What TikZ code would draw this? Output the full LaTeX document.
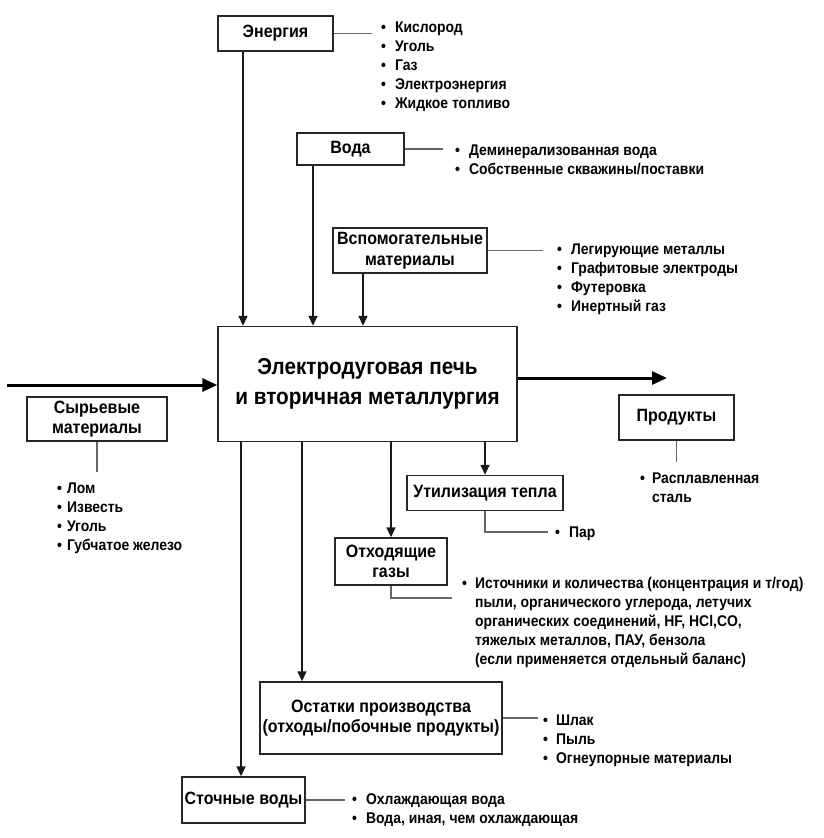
\documentclass[tikz,border=0pt]{standalone}
\usepackage{fontspec}
\setmainfont{Liberation Sans}[FakeStretch=0.9]
\usetikzlibrary{arrows.meta}
\begin{document}
\begin{tikzpicture}[x=1pt,y=-1pt,
  box/.style={draw=black!85, line width=1.4pt, inner sep=0pt, align=center, font=\bfseries\fontsize{17.8}{20.5}\selectfont},
  lst/.style={anchor=base west, inner sep=0pt, font=\bfseries\fontsize{15.5}{19}\selectfont},
  link/.style={draw=black!60, line width=1.2pt},
  flow/.style={draw=black!90, line width=1.5pt, -{Triangle[length=10pt,width=9pt]}},
  bigflow/.style={draw=black, line width=3pt, -{Triangle[length=15pt,width=13pt]}},
]
\useasboundingbox (0,0) rectangle (823,838);

% boxes
\node[box, minimum width=115pt, minimum height=35pt] (en) at (275.5,33.5) {Энергия};
\node[box, minimum width=107pt, minimum height=32pt] (wa) at (350.5,149) {Вода};
\node[box, minimum width=154pt, minimum height=45pt] (aux) at (410,250.5) {Вспомогательные\\материалы};
\node[box, minimum width=299pt, minimum height=115pt, font=\bfseries\fontsize{23}{30}\selectfont] (eaf) at (367.5,384) {Электродуговая печь\\и вторичная металлургия};
\node[box, minimum width=140pt, minimum height=44pt] (raw) at (97,419) {Сырьевые\\материалы};
\node[box, minimum width=115pt, minimum height=45pt] (prod) at (676.5,417.5) {Продукты};
\node[box, minimum width=156pt, minimum height=35pt] (heat) at (485,493) {Утилизация тепла};
\node[box, minimum width=112pt, minimum height=47pt] (off) at (391,561.5) {Отходящие\\газы};
\node[box, minimum width=242pt, minimum height=72pt] (res) at (381,718) {Остатки производства\\(отходы/побочные продукты)};
\node[box, minimum width=123pt, minimum height=46pt] (ww) at (243.5,800) {Сточные воды};

% lists
\node[lst] (enl) at (381,32) {\begin{tabular}[t]{@{}l@{\hspace{9pt}}l@{}}•&Кислород\\•&Уголь\\•&Газ\\•&Электроэнергия\\•&Жидкое топливо\end{tabular}};
\node[lst] (wal) at (455,155) {\begin{tabular}[t]{@{}l@{\hspace{9pt}}l@{}}•&Деминерализованная вода\\•&Собственные скважины/поставки\end{tabular}};
\node[lst] (auxl) at (557,254) {\begin{tabular}[t]{@{}l@{\hspace{9pt}}l@{}}•&Легирующие металлы\\•&Графитовые электроды\\•&Футеровка\\•&Инертный газ\end{tabular}};
\node[lst] (rawl) at (57,493) {\begin{tabular}[t]{@{}l@{\hspace{5pt}}l@{}}•&Лом\\•&Известь\\•&Уголь\\•&Губчатое железо\end{tabular}};
\node[lst] (prodl) at (640,483) {\begin{tabular}[t]{@{}l@{\hspace{7pt}}l@{}}•&Расплавленная\\&сталь\end{tabular}};
\node[lst] (heatl) at (555,537) {\begin{tabular}[t]{@{}l@{\hspace{9pt}}l@{}}•&Пар\end{tabular}};
\node[lst] (offl) at (462,588) {\begin{tabular}[t]{@{}l@{\hspace{8pt}}l@{}}•&Источники и количества (концентрация и т/год)\\&пыли, органического углерода, летучих\\&органических соединений, HF, HCl,CO,\\&тяжелых металлов, ПАУ, бензола\\&(если применяется отдельный баланс)\end{tabular}};
\node[lst] (resl) at (543,725) {\begin{tabular}[t]{@{}l@{\hspace{8pt}}l@{}}•&Шлак\\•&Пыль\\•&Огнеупорные материалы\end{tabular}};
\node[lst] (wwl) at (352,804) {\begin{tabular}[t]{@{}l@{\hspace{9pt}}l@{}}•&Охлаждающая вода\\•&Вода, иная, чем охлаждающая\end{tabular}};

% list connectors
\coordinate (enE) at (372,33.5);
\coordinate (waE) at (443,149);
\coordinate (auxE) at (543,250.5);
\coordinate (rawS) at (97,472);
\coordinate (prodS) at (676.5,462);
\coordinate (heatE) at (548,532);
\coordinate (offE) at (452,598);
\coordinate (resE) at (538,718);
\coordinate (wwE) at (345,800);
\draw[link] (en.east) -- (enE);
\draw[link] (wa.east) -- (waE);
\draw[link] (aux.east) -- (auxE);
\draw[link] (raw.south) -- (rawS);
\draw[link] (prod.south) -- (prodS);
\draw[link] (heat.south) |- (heatE);
\draw[link] (off.south) |- (offE);
\draw[link] (res.east) -- (resE);
\draw[link] (ww.east) -- (wwE);

% flows into the furnace
\draw[flow] ([xshift=-32.5pt]en.south) -- ([xshift=-32.5pt]en.south |- eaf.north);
\draw[flow] ([xshift=-37.5pt]wa.south) -- ([xshift=-37.5pt]wa.south |- eaf.north);
\draw[flow] ([xshift=-47pt]aux.south) -- ([xshift=-47pt]aux.south |- eaf.north);

% flows out of the furnace
\draw[flow] (heat.north |- eaf.south) -- (heat.north);
\draw[flow] (off.north |- eaf.south) -- (off.north);
\draw[flow] ([xshift=-79pt]res.north |- eaf.south) -- ([xshift=-79pt]res.north);
\draw[flow] ([xshift=-2.5pt]ww.north |- eaf.south) -- ([xshift=-2.5pt]ww.north);

% main material flow
\coordinate (inS) at (7,385);
\coordinate (outE) at (667,378);
\draw[bigflow] (inS) -- (inS -| eaf.west);
\draw[bigflow] (eaf.east |- outE) -- (outE);
\end{tikzpicture}
\end{document}
